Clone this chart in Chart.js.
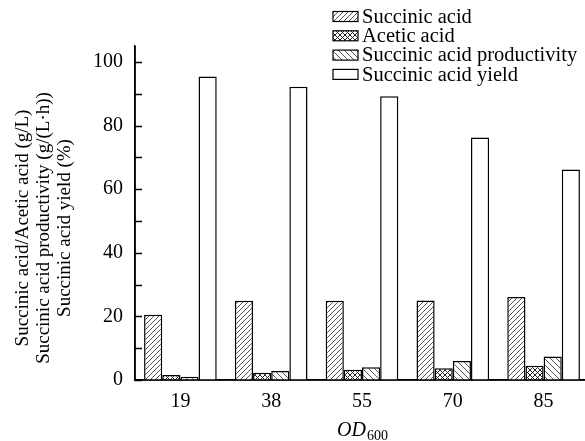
<!DOCTYPE html>
<html>
<head>
<meta charset="utf-8">
<script src="https://cdn.jsdelivr.net/npm/chart.js@4.4.0/dist/chart.umd.min.js"></script>
<style>
  html, body { margin: 0; padding: 0; background: #fff; overflow: hidden; }
  #wrap { width: 590px; height: 441px; }
</style>
</head>
<body>
<div id="wrap"><canvas id="chart" width="590" height="441"></canvas></div>
<script>
// Data
const categories = ["19", "38", "55", "70", "85"];
const succinicAcid = [20.5, 24.9, 24.9, 25.0, 26.1];
const aceticAcid = [1.6, 2.3, 3.2, 3.7, 4.5];
const productivity = [1.0, 2.8, 4.0, 6.0, 7.4];
const yieldPct = [95.4, 92.2, 89.2, 76.2, 66.2];
const yTicks = [0, 10, 20, 30, 40, 50, 60, 70, 80, 90, 100];
const seriesNames = ["Succinic acid", "Acetic acid", "Succinic acid productivity", "Succinic acid yield"];
const yTitleLines = ["Succinic acid/Acetic acid (g/L)", "Succinic acid productivity (g/(L\u00b7h))", "Succinic acid yield (%)"];

const SERIF = "'Liberation Serif', 'Times New Roman', serif";
const canvas = document.getElementById("chart");
const ctx = canvas.getContext("2d");

// Hatch patterns
function hatch(dir, gap, color) {
  const c = document.createElement("canvas");
  c.width = gap;
  c.height = gap;
  const g = c.getContext("2d");
  g.fillStyle = "#fff";
  g.fillRect(0, 0, gap, gap);
  g.strokeStyle = color;
  g.lineWidth = 1;
  g.beginPath();
  if (dir === "/" || dir === "x") {
    g.moveTo(-1, gap + 1); g.lineTo(gap + 1, -1);
    g.moveTo(-1, 1); g.lineTo(1, -1);
    g.moveTo(gap - 1, gap + 1); g.lineTo(gap + 1, gap - 1);
  }
  if (dir === "\\" || dir === "x") {
    g.moveTo(-1, -1); g.lineTo(gap + 1, gap + 1);
    g.moveTo(gap - 1, -1); g.lineTo(gap + 1, 1);
    g.moveTo(-1, gap - 1); g.lineTo(1, gap + 1);
  }
  g.stroke();
  return ctx.createPattern(c, "repeat");
}

const fills = [hatch("/", 5, "#555"), hatch("x", 5, "#222"), hatch("\\", 6, "#555"), "#fff"];
const values = [succinicAcid, aceticAcid, productivity, yieldPct];

const datasets = values.map((v, i) => ({
  label: seriesNames[i],
  data: v,
  backgroundColor: fills[i],
  borderColor: "#000",
  borderWidth: 1.5,
  categoryPercentage: 0.8,
  barPercentage: 1.0,
}));

// Inward ticks, axis titles, legend
const decorations = {
  id: "decorations",
  afterDraw(chart) {
    const { ctx, chartArea, scales } = chart;
    ctx.save();
    ctx.strokeStyle = "#000";
    ctx.lineWidth = 1.5;

    // redraw axis lines on top of bars
    const y0 = scales.y.getPixelForValue(0);
    ctx.beginPath();
    ctx.moveTo(chartArea.left, y0);
    ctx.lineTo(chartArea.right, y0);
    ctx.moveTo(chartArea.left, chartArea.top);
    ctx.lineTo(chartArea.left, y0);
    ctx.stroke();

    scales.y.ticks.forEach((t) => {
      const y = Math.round(scales.y.getPixelForValue(t.value)) + 0.5;
      ctx.beginPath();
      ctx.moveTo(chartArea.left, y);
      ctx.lineTo(chartArea.left + 7, y);
      ctx.stroke();
    });

    // y title
    ctx.fillStyle = "#000";
    ctx.font = "19px " + SERIF;
    ctx.textAlign = "center";
    ctx.textBaseline = "middle";
    const xs = [23, 44, 65];
    yTitleLines.forEach((line, i) => {
      ctx.save();
      ctx.translate(xs[i], 228);
      ctx.rotate(-Math.PI / 2);
      ctx.fillText(line, 0, 0);
      ctx.restore();
    });

    // x title: OD600
    ctx.textAlign = "left";
    ctx.textBaseline = "alphabetic";
    ctx.font = "italic 20px " + SERIF;
    const w1 = ctx.measureText("OD").width;
    ctx.font = "14px " + SERIF;
    const w2 = ctx.measureText("600").width;
    const cx = (chartArea.left + chartArea.right) / 2;
    const x0 = cx - (w1 + w2) / 2;
    ctx.font = "italic 20px " + SERIF;
    ctx.fillText("OD", x0, 436);
    ctx.font = "14px " + SERIF;
    ctx.fillText("600", x0 + w1 + 1, 440);

    // legend
    ctx.font = "20.5px " + SERIF;
    ctx.textBaseline = "middle";
    chart.data.datasets.forEach((ds, i) => {
      const yc = 16.5 + i * 19.3;
      ctx.fillStyle = ds.backgroundColor;
      ctx.fillRect(333, yc - 5, 25, 10);
      ctx.lineWidth = 1.2;
      ctx.strokeRect(333, yc - 5, 25, 10);
      ctx.fillStyle = "#000";
      ctx.fillText(ds.label, 362, yc + 1);
    });
    ctx.restore();
  },
};

new Chart(canvas, {
  type: "bar",
  data: { labels: categories, datasets: datasets },
  options: {
    responsive: false,
    animation: false,
    devicePixelRatio: 1,
    layout: { padding: { top: 46, right: 1, left: 0, bottom: 0 } },
    plugins: {
      legend: { display: false },
      tooltip: { enabled: false },
    },
    scales: {
      x: {
        grid: { display: false, drawTicks: false },
        border: { display: true, color: "#000", width: 1.5 },
        ticks: { color: "#000", font: { family: SERIF, size: 20 }, padding: 10 },
        afterFit: (s) => { s.height = 61; },
      },
      y: {
        min: 0,
        max: 105,
        grid: { display: false, drawTicks: false },
        border: { display: true, color: "#000", width: 1.5 },
        ticks: {
          color: "#000",
          font: { family: SERIF, size: 20 },
          padding: 12,
          autoSkip: false,
          callback: (v) => (v % 20 === 0 ? v : ""),
        },
        afterBuildTicks: (s) => { s.ticks = yTicks.map((v) => ({ value: v })); },
        afterFit: (s) => { s.width = 135; },
      },
    },
  },
  plugins: [decorations],
});
</script>
</body>
</html>
